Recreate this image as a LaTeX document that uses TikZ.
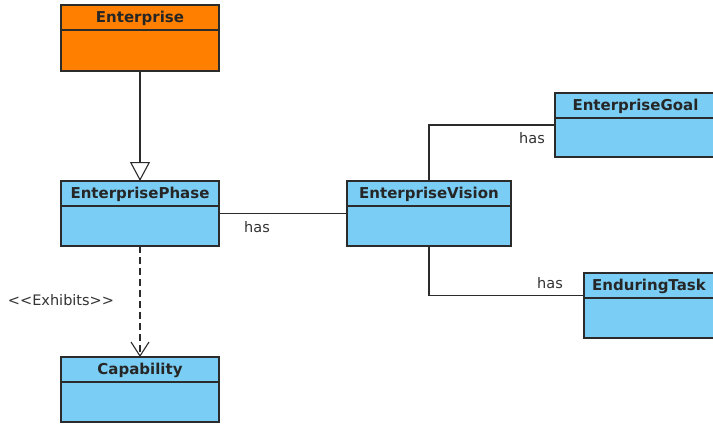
\documentclass[tikz,border=0pt]{standalone}
\usepackage{fontspec}
\setmainfont{DejaVu Sans}
\newfontfamily\lblfont{DejaVu Sans}
\usetikzlibrary{arrows.meta}
\definecolor{entorange}{HTML}{FF8000}
\definecolor{clsblue}{HTML}{7ACDF4}
\definecolor{linec}{HTML}{2B2B2B}
\definecolor{lblc}{HTML}{333333}
\tikzset{
  classbox/.style={draw=linec, line width=1.2pt, anchor=north west, inner sep=0pt, outer sep=0pt},
  titletext/.style={font=\fontsize{15}{16}\selectfont\bfseries, text=black!85, inner sep=0pt},
  lbl/.style={font=\lblfont\fontsize{14.5}{16}\selectfont, text=lblc, inner sep=0pt},
  conn/.style={draw=linec, line width=1.1pt},
}
\newcommand{\umlclass}[7]{%
  \node[classbox, fill=#7, minimum width=#4pt, minimum height=#5pt] (#1) at (#2pt,-#3pt) {};
  \draw[linec, line width=1.2pt] ([yshift=-25pt]#1.north west) -- ([yshift=-25pt]#1.north east);
  \node[titletext] (#1-title) at ([yshift=-13pt]#1.north) {#6};
}
\begin{document}
\begin{tikzpicture}
\clip (0,0) rectangle (713pt,-424pt);
\fill[white] (0,0) rectangle (713pt,-424pt);
\umlclass{ent}{61}{5}{158}{66}{Enterprise}{entorange}
\umlclass{phase}{61}{181}{158}{65}{EnterprisePhase}{clsblue}
\umlclass{cap}{61}{357}{158}{65}{Capability}{clsblue}
\umlclass{vision}{347}{181}{164}{65}{EnterpriseVision}{clsblue}
\umlclass{goal}{555}{93}{161}{64}{EnterpriseGoal}{clsblue}
\umlclass{task}{584}{273}{130}{65}{EnduringTask}{clsblue}
% generalization
\draw[conn, -{Triangle[open, length=19pt, width=20pt, line width=1.1pt]}] (ent.south) -- (phase.north);
% dependency
\draw[conn, dash pattern=on 7pt off 4pt, -{Straight Barb[length=14pt, width=18pt, line width=1.1pt]}] (phase.south) -- (cap.north);
\node[lbl] (exh) at (61pt,-300pt) {<<Exhibits>>};
% associations
\draw[conn] (phase.east) -- (vision.west);
\node[lbl] (has1) at (257pt,-227pt) {has};
\draw[conn] (vision.north) |- (goal.west);
\node[lbl, anchor=east] (has2) at (545pt,-138pt) {has};
\coordinate (taskend) at ([yshift=10pt]task.west);
\draw[conn] (vision.south) |- (taskend);
\node[lbl] (has3) at (550pt,-283pt) {has};
\end{tikzpicture}
\end{document}
